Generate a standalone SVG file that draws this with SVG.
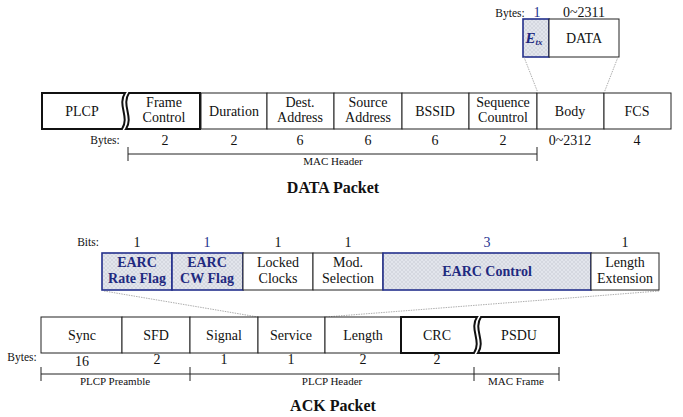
<svg xmlns="http://www.w3.org/2000/svg" width="683" height="417" viewBox="0 0 683 417" font-family="'Liberation Serif', 'Times New Roman', 'DejaVu Serif', serif">
<defs>
<pattern id="hatch" width="4" height="4" patternUnits="userSpaceOnUse">
<rect width="4" height="4" fill="#e2e5ec"/>
<path d="M0,0 L4,4 M4,0 L0,4" stroke="#ccd0d9" stroke-width="0.6"/>
</pattern>
</defs>
<style>
text{font-family:'Liberation Serif','Times New Roman','DejaVu Serif',serif;fill:#111;text-anchor:middle}
.lbl{font-size:14px}
.num{font-size:14px}
.small{font-size:11.5px}
.tiny{font-size:11px}
.title{font-size:16px;font-weight:bold}
.blue{fill:#26318f}
.bb{fill:#1f2a80;font-weight:bold;font-size:14px}
.box{fill:#fff;stroke:#222;stroke-width:1}
.thick{fill:#fff;stroke:#111;stroke-width:2}
.hb{fill:url(#hatch);stroke:#24308c;stroke-width:1.6}
.dot{stroke:#999;stroke-width:0.8;stroke-dasharray:1.5,1;fill:none}
.br{stroke:#222;stroke-width:1;fill:none}
</style>

<!-- DATA packet -->
<g id="data-plcp"><path class="thick" d="M42,93 H125 C117,105 130,117 122,129 H42 Z"/><text class="lbl" x="82" y="116">PLCP</text></g>
<g id="data-framecontrol"><path class="thick" d="M129,93 H200 V129 H126 C134,117 121,105 129,93 Z"/><text class="lbl" x="164" y="107">Frame</text><text class="lbl" x="164" y="122">Control</text></g>
<g id="data-duration"><rect class="box" x="201" y="93" width="66" height="36"/><text class="lbl" x="234" y="116">Duration</text></g>
<g id="data-dest"><rect class="box" x="267" y="93" width="67" height="36"/><text class="lbl" x="300" y="107">Dest.</text><text class="lbl" x="300" y="122">Address</text></g>
<g id="data-source"><rect class="box" x="334" y="93" width="68" height="36"/><text class="lbl" x="368" y="107">Source</text><text class="lbl" x="368" y="122">Address</text></g>
<g id="data-bssid"><rect class="box" x="402" y="93" width="67" height="36"/><text class="lbl" x="435" y="116">BSSID</text></g>
<g id="data-sequence"><rect class="box" x="469" y="93" width="68" height="36"/><text class="lbl" x="503" y="107">Sequence</text><text class="lbl" x="503" y="122">Countrol</text></g>
<g id="data-body"><rect class="box" x="537" y="93" width="67" height="36"/><text class="lbl" x="570" y="116">Body</text></g>
<g id="data-fcs"><rect class="box" x="604" y="93" width="67" height="36"/><text class="lbl" x="637" y="116">FCS</text></g>

<text class="small" x="105" y="144">Bytes:</text>
<text class="num" x="165" y="145">2</text>
<text class="num" x="234" y="145">2</text>
<text class="num" x="300" y="145">6</text>
<text class="num" x="368" y="145">6</text>
<text class="num" x="435" y="145">6</text>
<text class="num" x="503" y="145">2</text>
<text class="num" x="570" y="145">0~2312</text>
<text class="num" x="637" y="145">4</text>

<g id="mac-header-bracket"><path class="br" d="M128,147 V161 M128,154 H537 M537,147 V161"/><text class="tiny" x="333" y="165">MAC Header</text></g>
<text class="title" x="333" y="193">DATA Packet</text>

<!-- body expansion -->
<text class="small" x="510" y="17">Bytes:</text>
<text class="num blue" x="537" y="17">1</text>
<text class="num" x="584" y="17">0~2311</text>
<g id="etx"><rect class="hb" x="523" y="19" width="26" height="38"/><text x="534" y="43" style="font-size:15px;font-weight:bold;font-style:italic;fill:#1f2a80">E<tspan style="font-size:9px" dy="2">tx</tspan></text></g>
<g id="data-data"><rect class="box" x="549" y="19" width="70" height="38"/><text class="lbl" x="584" y="43">DATA</text></g>

<g id="connectors">
<path class="dot" d="M524,57 L538,93"/>
<path class="dot" d="M618,57 L604,93"/>
<path class="dot" d="M104,291 L258,317"/>
<path class="dot" d="M659,291 L325,317"/>
</g>

<!-- ACK bits row -->
<text class="small" x="88" y="246">Bits:</text>
<text class="num" x="137" y="247">1</text>
<text class="num blue" x="207" y="247">1</text>
<text class="num" x="278" y="247">1</text>
<text class="num" x="348" y="247">1</text>
<text class="num blue" x="487" y="247">3</text>
<text class="num" x="625" y="247">1</text>
<g id="earc-rate"><rect class="hb" x="102" y="253" width="70" height="37"/><text class="bb" x="137" y="267">EARC</text><text class="bb" x="137" y="283">Rate Flag</text></g>
<g id="earc-cw"><rect class="hb" x="172" y="253" width="71" height="37"/><text class="bb" x="207" y="267">EARC</text><text class="bb" x="207" y="283">CW Flag</text></g>
<g id="locked"><rect class="box" x="243" y="253" width="70" height="37"/><text class="lbl" x="278" y="267">Locked</text><text class="lbl" x="278" y="283">Clocks</text></g>
<g id="mod"><rect class="box" x="313" y="253" width="70" height="37"/><text class="lbl" x="348" y="267">Mod.</text><text class="lbl" x="348" y="283">Selection</text></g>
<g id="earc-control"><rect class="hb" x="383" y="253" width="208" height="37"/><text class="bb" x="487" y="276">EARC Control</text></g>
<g id="lenext"><rect class="box" x="591" y="253" width="68" height="37"/><text class="lbl" x="625" y="267">Length</text><text class="lbl" x="625" y="283">Extension</text></g>

<!-- ACK row -->
<g id="sync"><rect class="box" x="41" y="317" width="81" height="36"/><text class="lbl" x="82" y="340">Sync</text></g>
<g id="sfd"><rect class="box" x="122" y="317" width="68" height="36"/><text class="lbl" x="156" y="340">SFD</text></g>
<g id="signal"><rect class="box" x="190" y="317" width="68" height="36"/><text class="lbl" x="224" y="340">Signal</text></g>
<g id="service"><rect class="box" x="258" y="317" width="67" height="36"/><text class="lbl" x="291" y="340">Service</text></g>
<g id="length"><rect class="box" x="325" y="317" width="76" height="36"/><text class="lbl" x="363" y="340">Length</text></g>
<g id="crc"><path class="thick" d="M401,317 H477 C469,329 482,341 474,353 H401 Z"/><text class="lbl" x="437" y="340">CRC</text></g>
<g id="psdu"><path class="thick" d="M481,317 H559 V353 H478 C486,341 473,329 481,317 Z"/><text class="lbl" x="519" y="340">PSDU</text></g>

<text class="small" x="22" y="361">Bytes:</text>
<text class="num" x="82" y="366">16</text>
<text class="num" x="157" y="364">2</text>
<text class="num" x="224" y="364">1</text>
<text class="num" x="291" y="364">1</text>
<text class="num" x="363" y="364">2</text>
<text class="num" x="437" y="364">2</text>

<g id="ack-brackets">
<path class="br" d="M41,367 V381 M41,374 H559 M190,367 V381 M474,367 V381 M559,367 V381"/>
<text class="tiny" x="115" y="385">PLCP Preamble</text>
<text class="tiny" x="332" y="385">PLCP Header</text>
<text class="tiny" x="516" y="385">MAC Frame</text>
</g>
<text class="title" x="333" y="411">ACK Packet</text>
</svg>
